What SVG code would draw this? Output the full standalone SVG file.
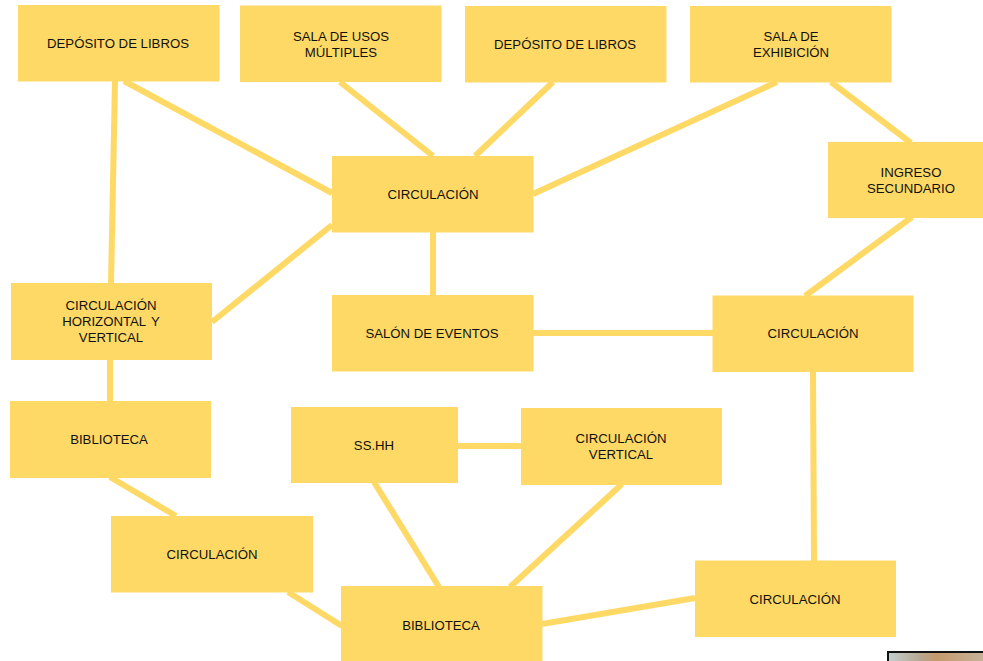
<svg xmlns="http://www.w3.org/2000/svg" width="983" height="661" viewBox="0 0 983 661">
<style>
.n{fill:#ffd966}
.c line{stroke:#ffd966;stroke-width:6}
text{font-family:"Liberation Sans",Arial,sans-serif;font-size:13.2px;fill:#111;text-anchor:middle}
</style>
<rect width="983" height="661" fill="#fff"/>
<g class="c" id="connectors">
<line x1="115" y1="81" x2="111" y2="284"/>
<line x1="124" y1="81" x2="332" y2="193"/>
<line x1="340" y1="82" x2="433" y2="156"/>
<line x1="553" y1="82" x2="475" y2="156"/>
<line x1="777" y1="82" x2="533" y2="194"/>
<line x1="831" y1="82" x2="911" y2="143"/>
<line x1="332" y1="225" x2="212" y2="322"/>
<line x1="433" y1="232" x2="433" y2="295"/>
<line x1="533" y1="333" x2="713" y2="333"/>
<line x1="912" y1="217" x2="805" y2="296"/>
<line x1="110" y1="359" x2="110" y2="402"/>
<line x1="110" y1="477" x2="176" y2="516"/>
<line x1="288" y1="592" x2="342" y2="626"/>
<line x1="458" y1="446" x2="522" y2="446"/>
<line x1="374" y1="482" x2="439" y2="587"/>
<line x1="622" y1="484" x2="510" y2="587"/>
<line x1="813" y1="371" x2="814" y2="561"/>
<line x1="542" y1="624" x2="695" y2="598"/>
</g>
<g id="n1"><rect class="n" x="18" y="5" width="201.500" height="76.500"/><text x="118" y="48">DEPÓSITO DE LIBROS</text></g>
<g id="n2"><rect class="n" x="240" y="5.500" width="201.500" height="76.500"/><text x="341" y="41">SALA DE USOS</text><text x="341" y="57">MÚLTIPLES</text></g>
<g id="n3"><rect class="n" x="465" y="6" width="201.500" height="76.500"/><text x="565" y="49">DEPÓSITO DE LIBROS</text></g>
<g id="n4"><rect class="n" x="690" y="6" width="201.500" height="76.500"/><text x="791" y="41">SALA DE</text><text x="791" y="57">EXHIBICIÓN</text></g>
<g id="n5"><rect class="n" x="332" y="156" width="201.500" height="76.500"/><text x="433" y="199">CIRCULACIÓN</text></g>
<g id="n6"><rect class="n" x="828" y="142" width="155" height="76"/><text x="911" y="177">INGRESO</text><text x="911" y="193">SECUNDARIO</text></g>
<g id="n7"><rect class="n" x="11" y="283" width="201" height="77"/><text x="111" y="310">CIRCULACIÓN</text><text x="111" y="326" word-spacing="2">HORIZONTAL Y</text><text x="111" y="342">VERTICAL</text></g>
<g id="n8"><rect class="n" x="332" y="295" width="201.500" height="76.500"/><text x="432" y="338">SALÓN DE EVENTOS</text></g>
<g id="n9"><rect class="n" x="712.500" y="295.500" width="201" height="76.500"/><text x="813" y="338">CIRCULACIÓN</text></g>
<g id="n10"><rect class="n" x="10" y="401" width="201" height="77"/><text x="109" y="444">BIBLIOTECA</text></g>
<g id="n11"><rect class="n" x="291" y="407" width="167" height="76"/><text x="374" y="450">SS.HH</text></g>
<g id="n12"><rect class="n" x="521" y="408" width="201" height="77"/><text x="621" y="443">CIRCULACIÓN</text><text x="621" y="459">VERTICAL</text></g>
<g id="n13"><rect class="n" x="111" y="516" width="202" height="76.500"/><text x="212" y="559">CIRCULACIÓN</text></g>
<g id="n14"><rect class="n" x="341" y="586" width="201.500" height="75"/><text x="441" y="630">BIBLIOTECA</text></g>
<g id="n15"><rect class="n" x="695" y="560.500" width="201" height="76.500"/><text x="795" y="604">CIRCULACIÓN</text></g>
<defs><linearGradient id="g" x1="0" y1="0" x2="1" y2="0"><stop offset="0" stop-color="#c4cfd0"/><stop offset=".35" stop-color="#b7a68e"/><stop offset=".5" stop-color="#c49a6c"/><stop offset="1" stop-color="#c8b29a"/></linearGradient></defs>
<rect x="888" y="652" width="96" height="10" fill="url(#g)" stroke="#111" stroke-width="2"/>
</svg>
